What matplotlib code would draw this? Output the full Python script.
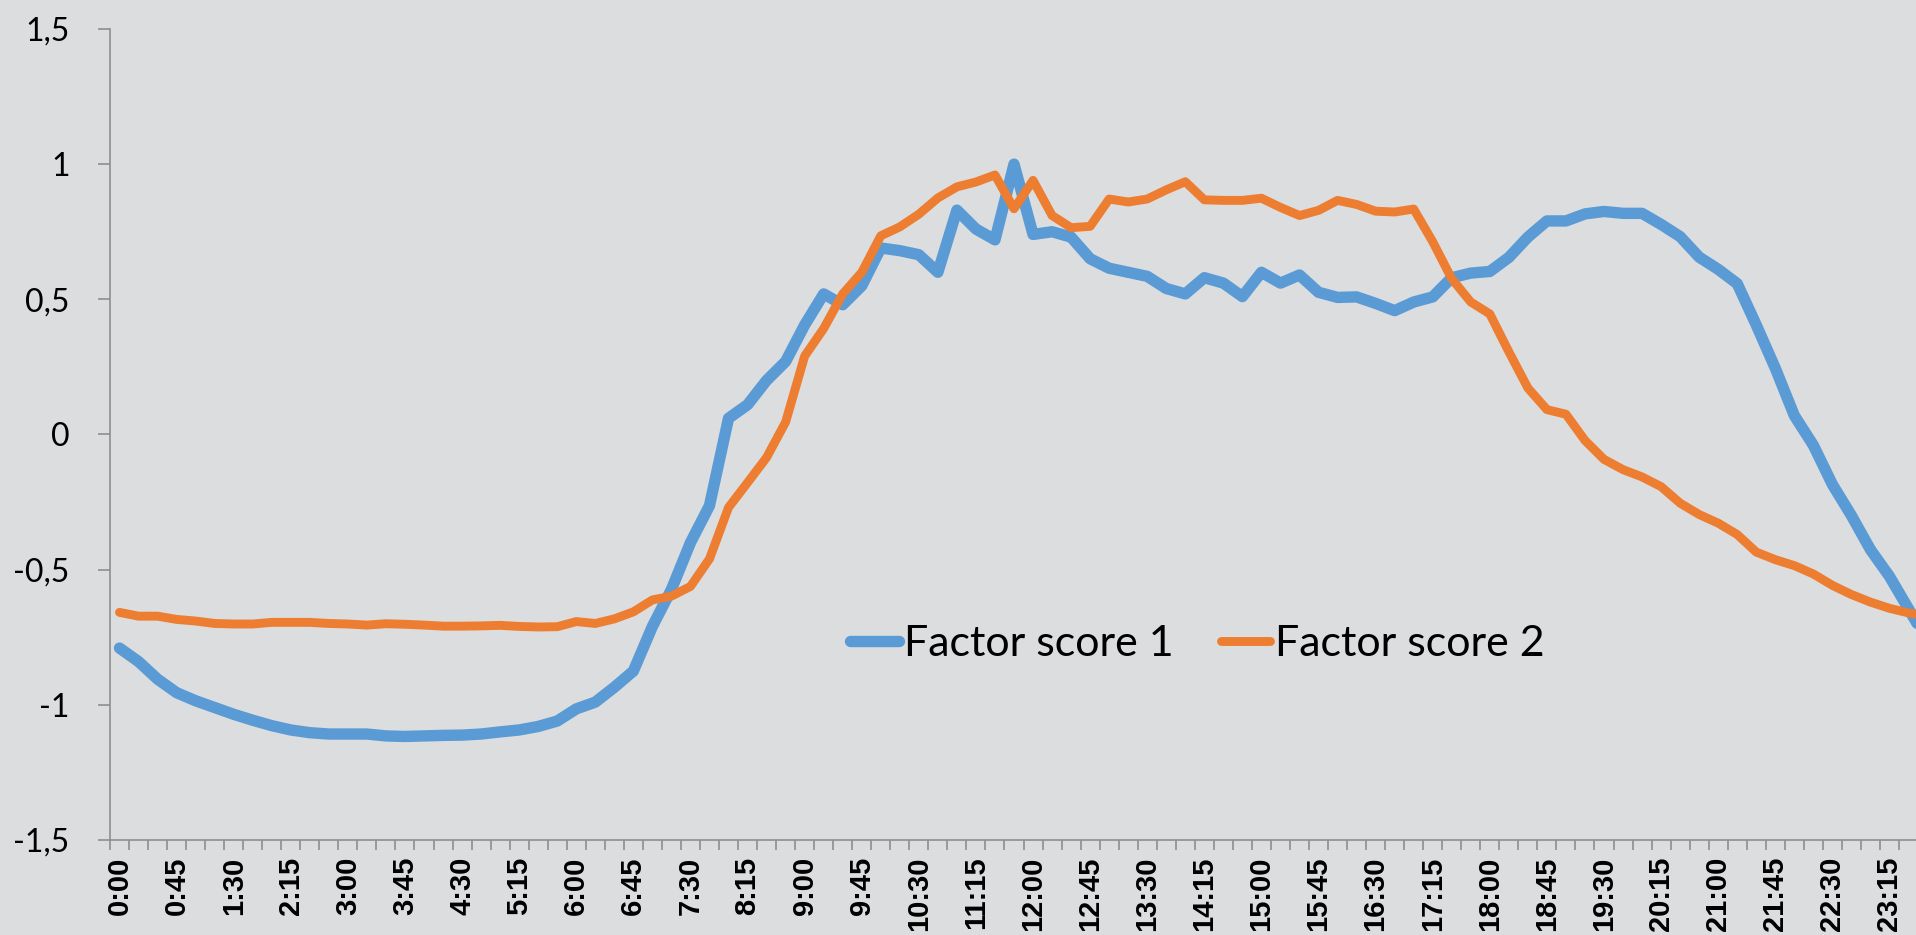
import matplotlib
matplotlib.use("Agg")
import matplotlib.pyplot as plt

# time slots every 15 minutes
times = ["%d:%02d" % (m // 60, m % 60) for m in range(0, 24 * 60, 15)]

factor1 = [
    -0.79, -0.84, -0.905, -0.955, -0.985, -1.01, -1.035, -1.057, -1.077, -1.093,
    -1.103, -1.108, -1.108, -1.108, -1.115, -1.117, -1.115, -1.113, -1.112, -1.108,
    -1.10, -1.093, -1.08, -1.06, -1.015, -0.99, -0.935, -0.875, -0.71, -0.573,
    -0.40, -0.263, 0.06, 0.11, 0.20, 0.27, 0.405, 0.52, 0.48, 0.55,
    0.69, 0.68, 0.665, 0.60, 0.83, 0.76, 0.72, 1.0, 0.74, 0.75,
    0.73, 0.65, 0.615, 0.60, 0.585, 0.54, 0.52, 0.58, 0.56, 0.51,
    0.60, 0.56, 0.59, 0.526, 0.507, 0.509, 0.485, 0.458, 0.49, 0.509,
    0.58, 0.597, 0.603, 0.655, 0.73, 0.79, 0.79, 0.816, 0.825, 0.818,
    0.818, 0.777, 0.732, 0.656, 0.611, 0.558, 0.405, 0.245, 0.07, -0.04,
    -0.185, -0.30, -0.426, -0.525, -0.645, -0.765,
]

factor2 = [
    -0.658, -0.672, -0.672, -0.684, -0.69, -0.699, -0.701, -0.701, -0.695, -0.695,
    -0.695, -0.699, -0.701, -0.705, -0.70, -0.702, -0.705, -0.709, -0.709, -0.708,
    -0.706, -0.71, -0.712, -0.711, -0.692, -0.699, -0.682, -0.656, -0.612, -0.598,
    -0.562, -0.46, -0.27, -0.178, -0.085, 0.046, 0.29, 0.392, 0.52, 0.60,
    0.735, 0.768, 0.815, 0.875, 0.916, 0.934, 0.96, 0.835, 0.94, 0.81,
    0.765, 0.77, 0.871, 0.86, 0.871, 0.905, 0.935, 0.868, 0.866, 0.866,
    0.874, 0.84, 0.81, 0.829, 0.866, 0.851, 0.826, 0.823, 0.834, 0.713,
    0.576, 0.49, 0.446, 0.306, 0.172, 0.092, 0.075, -0.022, -0.092, -0.13,
    -0.157, -0.193, -0.254, -0.296, -0.328, -0.37, -0.435, -0.463, -0.485, -0.516,
    -0.558, -0.592, -0.62, -0.643, -0.66, -0.672,
]

bg = "#dcdddf"
fig = plt.figure(figsize=(19.16, 9.35), dpi=100, facecolor=bg)
ax = fig.add_axes([0.0574, 0.1016, 0.9536, 0.8674], facecolor=bg)

x = list(range(len(times)))
ax.plot(x, factor1, color="#5b9bd5", lw=8.2, solid_capstyle="round",
        solid_joinstyle="round", label="Factor score 1")
ax.plot(x, factor2, color="#ed7d31", lw=6.4, solid_capstyle="round",
        solid_joinstyle="round", label="Factor score 2")

ax.set_xlim(-0.5, len(times) - 0.5)
ax.set_ylim(-1.5, 1.5)

for s in ["top", "right"]:
    ax.spines[s].set_visible(False)
for s in ["left", "bottom"]:
    ax.spines[s].set_color("#8e8e8e")
    ax.spines[s].set_linewidth(1.2)

# labels every 45 min, small ticks on category boundaries
ax.set_xticks(x[::3])
ax.set_xticklabels(times[::3], rotation=90, fontsize=21, fontweight="bold",
                   family="Liberation Sans")
ax.set_xticks([i - 0.5 for i in range(len(times) + 1)], minor=True)
ax.tick_params(axis="x", which="major", length=0, pad=12)
ax.tick_params(axis="x", which="minor", length=7.5, width=1.2, color="#8e8e8e")

yt = [-1.5, -1, -0.5, 0, 0.5, 1, 1.5]
ax.set_yticks(yt)
ax.set_yticklabels([("%g" % v).replace(".", ",") for v in yt],
                   fontsize=23, family="Lato")
ax.tick_params(axis="y", length=9, width=1.2, color="#8e8e8e", pad=20)

leg = ax.legend(loc="center", bbox_to_anchor=(0.595, 0.242), ncol=2,
                frameon=False, prop={"family": "Lato", "size": 31},
                handlelength=1.15, handletextpad=0.1, columnspacing=1.1)

fig.savefig("out.png", dpi=100, facecolor=bg)
